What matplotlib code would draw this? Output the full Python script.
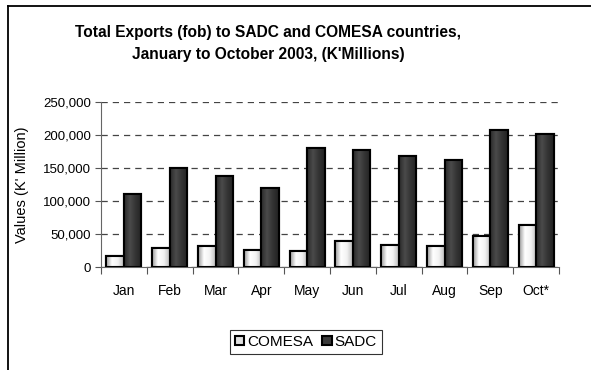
import matplotlib.pyplot as plt
import numpy as np
from matplotlib.patches import Rectangle
from matplotlib.colors import LinearSegmentedColormap

plt.rcParams['font.family'] = ['Liberation Sans', 'DejaVu Sans']

# data (K' Million)
months = ["Jan", "Feb", "Mar", "Apr", "May", "Jun", "Jul", "Aug", "Sep", "Oct*"]
comesa = [16400, 28200, 31400, 25900, 25000, 40000, 32700, 31400, 46800, 63200]
sadc = [110000, 150000, 138200, 120000, 180000, 177300, 167700, 162700, 208200, 201800]

fig = plt.figure(figsize=(5.91, 3.70), dpi=100)
ax = fig.add_axes([101 / 591, 103 / 370, 458 / 591, 165 / 370])

x = np.arange(len(months))
w = 0.38

# gradient fills, like the old excel bars
cm_light = LinearSegmentedColormap.from_list("light", ["#9a9a9a", "#ffffff", "#f2f2f2", "#bdbdbd"])
cm_dark = LinearSegmentedColormap.from_list("dark", ["#2a2a2a", "#4a4a4a", "#333333", "#222222"])
grad = np.linspace(0, 1, 64).reshape(1, -1)

b1 = ax.bar(x - w / 2, comesa, w, color="#e6e6e6", edgecolor="black", linewidth=1.5, label="COMESA", zorder=3)
b2 = ax.bar(x + w / 2, sadc, w, color="#3a3a3a", edgecolor="black", linewidth=1.5, label="SADC", zorder=3)

for bars, cmap in [(b1, cm_light), (b2, cm_dark)]:
    for bar in bars:
        bx, by = bar.get_x(), bar.get_y()
        bw, bh = bar.get_width(), bar.get_height()
        im = ax.imshow(grad, cmap=cmap, aspect="auto", extent=[bx, bx + bw, by, by + bh], zorder=3.5)
        im.set_clip_path(bar)
        # redraw the edge on top
        ax.add_patch(Rectangle((bx, by), bw, bh, fill=False, edgecolor="black", linewidth=1.5, zorder=4))

ax.set_xlim(-0.5, len(months) - 0.5)
ax.set_ylim(0, 250000)
ax.set_yticks(np.arange(0, 250001, 50000))
ax.set_yticklabels([f"{v:,}" for v in range(0, 250001, 50000)], fontsize=9.5)
ax.yaxis.grid(True, linestyle=(0, (5, 4)), color="#444444", linewidth=0.9, zorder=0)
ax.set_axisbelow(True)

ax.set_xticks(np.append(x - 0.5, len(months) - 0.5))
ax.set_xticklabels([])
ax.set_xticks(x, minor=True)
ax.set_xticklabels(months, minor=True, fontsize=10)
ax.tick_params(axis="x", which="minor", length=0, pad=12)
ax.tick_params(axis="x", which="major", length=5, color="#555555")
ax.tick_params(axis="y", length=4, color="#555555", pad=3)

for s in ["top", "right"]:
    ax.spines[s].set_visible(False)
ax.spines["left"].set_color("#666666")
ax.spines["bottom"].set_color("#666666")

ax.set_ylabel("Values (K' Million)", fontsize=10.5)
ax.yaxis.set_label_coords(-(101 - 29) / 458, 0.5)

fig.text(268 / 591, 1 - 33 / 370, "Total Exports (fob) to SADC and COMESA countries,",
         ha="center", va="center", fontsize=11.2, fontweight="bold")
fig.text(268 / 591, 1 - 54 / 370, "January to October 2003, (K'Millions)",
         ha="center", va="center", fontsize=11.2, fontweight="bold")

leg = fig.legend(handles=[Rectangle((0, 0), 1, 1, facecolor="#e0e0e0", edgecolor="black", linewidth=1.5),
                          Rectangle((0, 0), 1, 1, facecolor="#3a3a3a", edgecolor="black", linewidth=1.5)],
                 labels=["COMESA", "SADC"], loc="center", bbox_to_anchor=(306 / 591, 1 - 342 / 370),
                 ncol=2, fontsize=11, frameon=True, fancybox=False, handlelength=0.6, handleheight=0.6,
                 handletextpad=0.2, columnspacing=0.6, borderpad=0.3, borderaxespad=0)
leg.get_frame().set_edgecolor("black")
leg.get_frame().set_linewidth(0.8)

# outer chart border (left and top only show in the crop)
fig.add_artist(plt.Line2D([8 / 591, 8 / 591], [0, 1 - 6 / 370], color="black", linewidth=1.3))
fig.add_artist(plt.Line2D([8 / 591, 1], [1 - 6 / 370, 1 - 6 / 370], color="black", linewidth=1.3))

fig.savefig("out.png", dpi=100)
